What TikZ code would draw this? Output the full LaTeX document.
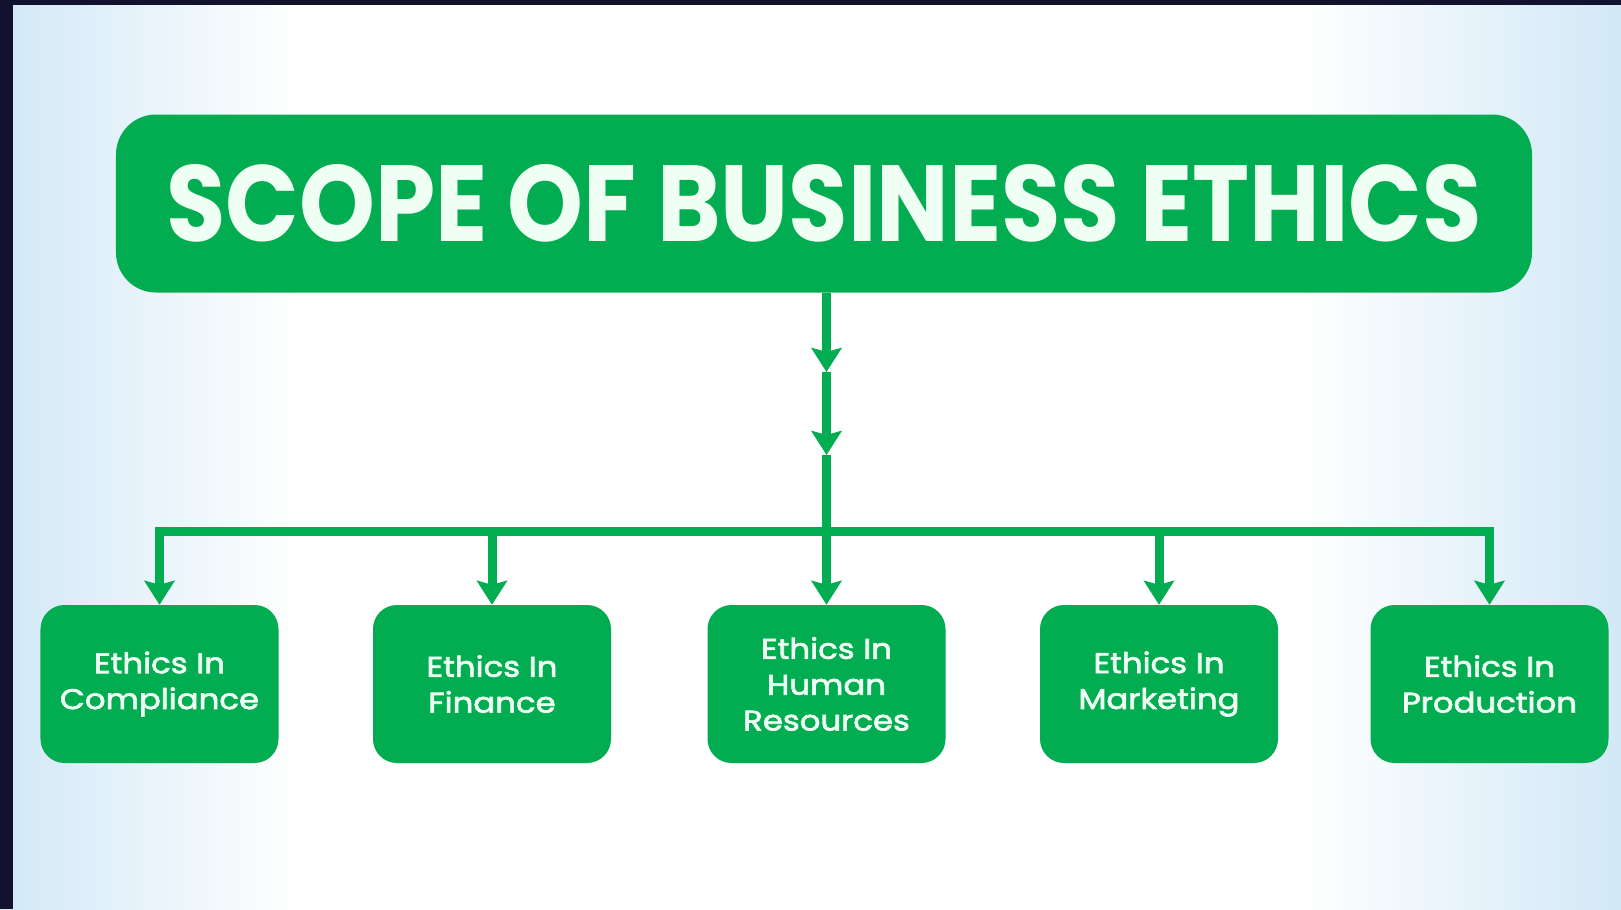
\documentclass[tikz,border=0pt]{standalone}
\usepackage{fontspec}
\setmainfont{Poppins}
\newfontfamily\popbox{Poppins}[FakeBold=2.4, FakeStretch=1.14]
\usetikzlibrary{arrows.meta}
\definecolor{navy}{RGB}{18,18,46}
\definecolor{grn}{RGB}{2,172,80}
\definecolor{bgblue}{RGB}{210,232,246}
\definecolor{txt}{RGB}{240,255,244}
\begin{document}
\begin{tikzpicture}[x=1bp,y=-1bp,
  box/.style={fill=grn, rounded corners=24bp, minimum width=238bp, minimum height=158bp,
    inner sep=0pt, align=center, text=txt, font=\popbox\fontsize{28.5}{36}\selectfont},
  titlebox/.style={fill=grn, rounded corners=40bp, minimum width=1416bp, minimum height=178bp,
    inner sep=0pt, text=txt},
  link/.style={draw=grn, line width=9bp},
  arr/.style={link, -{Stealth[length=24bp,width=30bp,inset=4bp]}}]
\useasboundingbox (0,0) rectangle (1621,909);
% background
\fill[white] (0,0) rectangle (1621,909);
\shade[left color=bgblue, right color=white] (0,0) rectangle (300,909);
\shade[left color=white, right color=bgblue] (1300,0) rectangle (1621,909);
\fill[navy] (0,0) rectangle (13,909);
\fill[navy] (0,0) rectangle (1621,5);
% title
\node[titlebox] (title) at (824,203.5) {\resizebox{1315bp}{77bp}{\bfseries SCOPE OF BUSINESS ETHICS}};
% boxes
\node[box] (comp) at (159.5,684) {Ethics In\\Compliance};
\node[box] (fin)  at (492,684)   {Ethics In\\Finance};
\node[box] (hr)   at (826.5,684) {Ethics In\\Human\\Resources};
\node[box] (mkt)  at (1159,684)  {Ethics In\\Marketing};
\node[box] (prod) at (1489.5,684){Ethics In\\Production};
% connectors
\coordinate (m1) at (826.5,372);
\coordinate (m2) at (826.5,455);
\coordinate (bar) at (0,531);
\draw[link, line cap=rect] (comp.north |- bar) -- (prod.north |- bar);
\draw[arr] (title.south -| hr.north) -- (m1);
\draw[arr] (m1) -- (m2);
\draw[arr] (m2) -- (hr.north);
\draw[arr] (comp.north |- bar) -- (comp.north);
\draw[arr] (fin.north |- bar) -- (fin.north);
\draw[arr] (mkt.north |- bar) -- (mkt.north);
\draw[arr] (prod.north |- bar) -- (prod.north);
\end{tikzpicture}
\end{document}
